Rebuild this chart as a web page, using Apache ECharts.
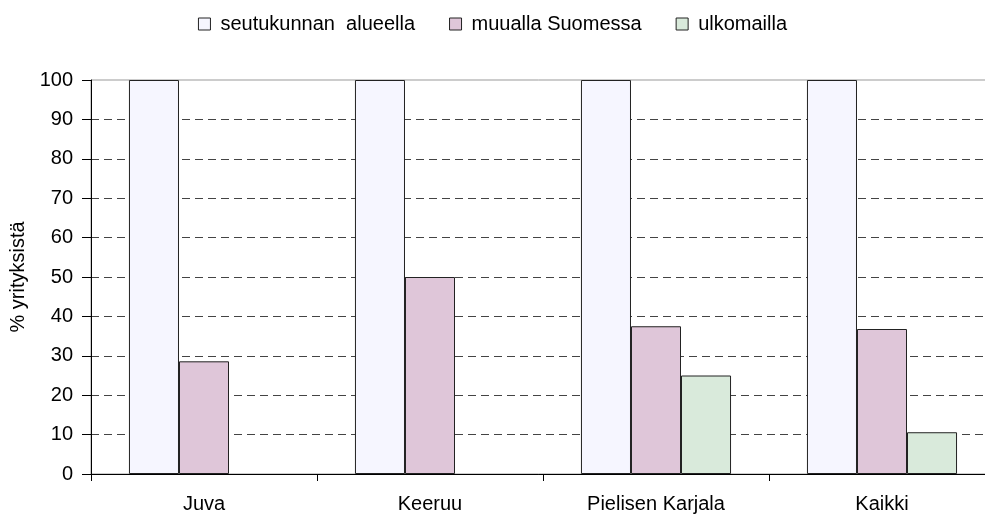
<!DOCTYPE html>
<html><head><meta charset="utf-8">
<script src="https://cdn.jsdelivr.net/npm/echarts@6/dist/echarts.min.js"></script>
<style>html,body{margin:0;padding:0;background:#fff}#c{width:985px;height:516px}</style>
</head><body><div id="c"></div>
<script>
const categories = ['Juva', 'Keeruu', 'Pielisen Karjala', 'Kaikki'];
const seriesNames = ['seutukunnan  alueella', 'muualla Suomessa', 'ulkomailla'];
const seutukunnan = [100, 100, 100, 100];
const muualla = [28.6, 50, 37.5, 36.8];
const ulkomailla = [0, 0, 25, 10.6];
const yTicks = { min: 0, max: 100, interval: 10 };

const colors = ['#f6f6ff', '#dfc6d9', '#d9eadb'];
const font = '"Liberation Sans", Arial, sans-serif';
const chart = echarts.init(document.getElementById('c'), null, { renderer: 'canvas' });
const mk = (name, data, i) => ({
  name, type: 'bar',
  data: data.map(v => v === 0 ? { value: 0, itemStyle: { borderWidth: 0 } } : v),
  barGap: '0%', barCategoryGap: '33.6%',
  itemStyle: { color: colors[i], borderColor: '#222', borderWidth: 1 },
  emphasis: { disabled: true }, animation: false
});
chart.setOption({
  animation: false,
  textStyle: { fontFamily: font },
  legend: {
    top: 9, left: 'center', itemGap: 34, itemWidth: 12, itemHeight: 12,
    icon: 'rect',
    itemStyle: { borderColor: '#222', borderWidth: 1 },
    textStyle: { fontFamily: font, fontSize: 20, color: '#000', padding: [0, 0, 0, 5] },
    data: seriesNames
  },
  grid: { left: 91, top: 80, width: 904, height: 394, outerBoundsMode: 'none', containLabel: false,
          show: true, borderColor: '#999', borderWidth: 1, backgroundColor: 'transparent' },
  xAxis: {
    type: 'category', data: categories,
    axisLine: { lineStyle: { color: '#000', width: 1 } },
    axisTick: { show: true, length: 7, lineStyle: { color: '#000' } },
    axisLabel: { fontFamily: font, fontSize: 20, color: '#000', margin: 20 }
  },
  yAxis: {
    type: 'value', min: yTicks.min, max: yTicks.max, interval: yTicks.interval,
    name: '% yrityksistä', nameLocation: 'middle', nameGap: 55, nameRotate: 90,
    nameTextStyle: { fontFamily: font, fontSize: 20, color: '#000' },
    axisLine: { show: true, lineStyle: { color: '#000', width: 1 } },
    axisTick: { show: true, length: 9, lineStyle: { color: '#000' } },
    axisLabel: { fontFamily: font, fontSize: 20, color: '#000', margin: 18 },
    splitLine: { show: true, showMaxLine: false, lineStyle: { color: '#444', type: [8, 5], width: 1 } }
  },
  series: [
    mk(seriesNames[0], seutukunnan, 0),
    mk(seriesNames[1], muualla, 1),
    mk(seriesNames[2], ulkomailla, 2)
  ]
});
</script></body></html>
